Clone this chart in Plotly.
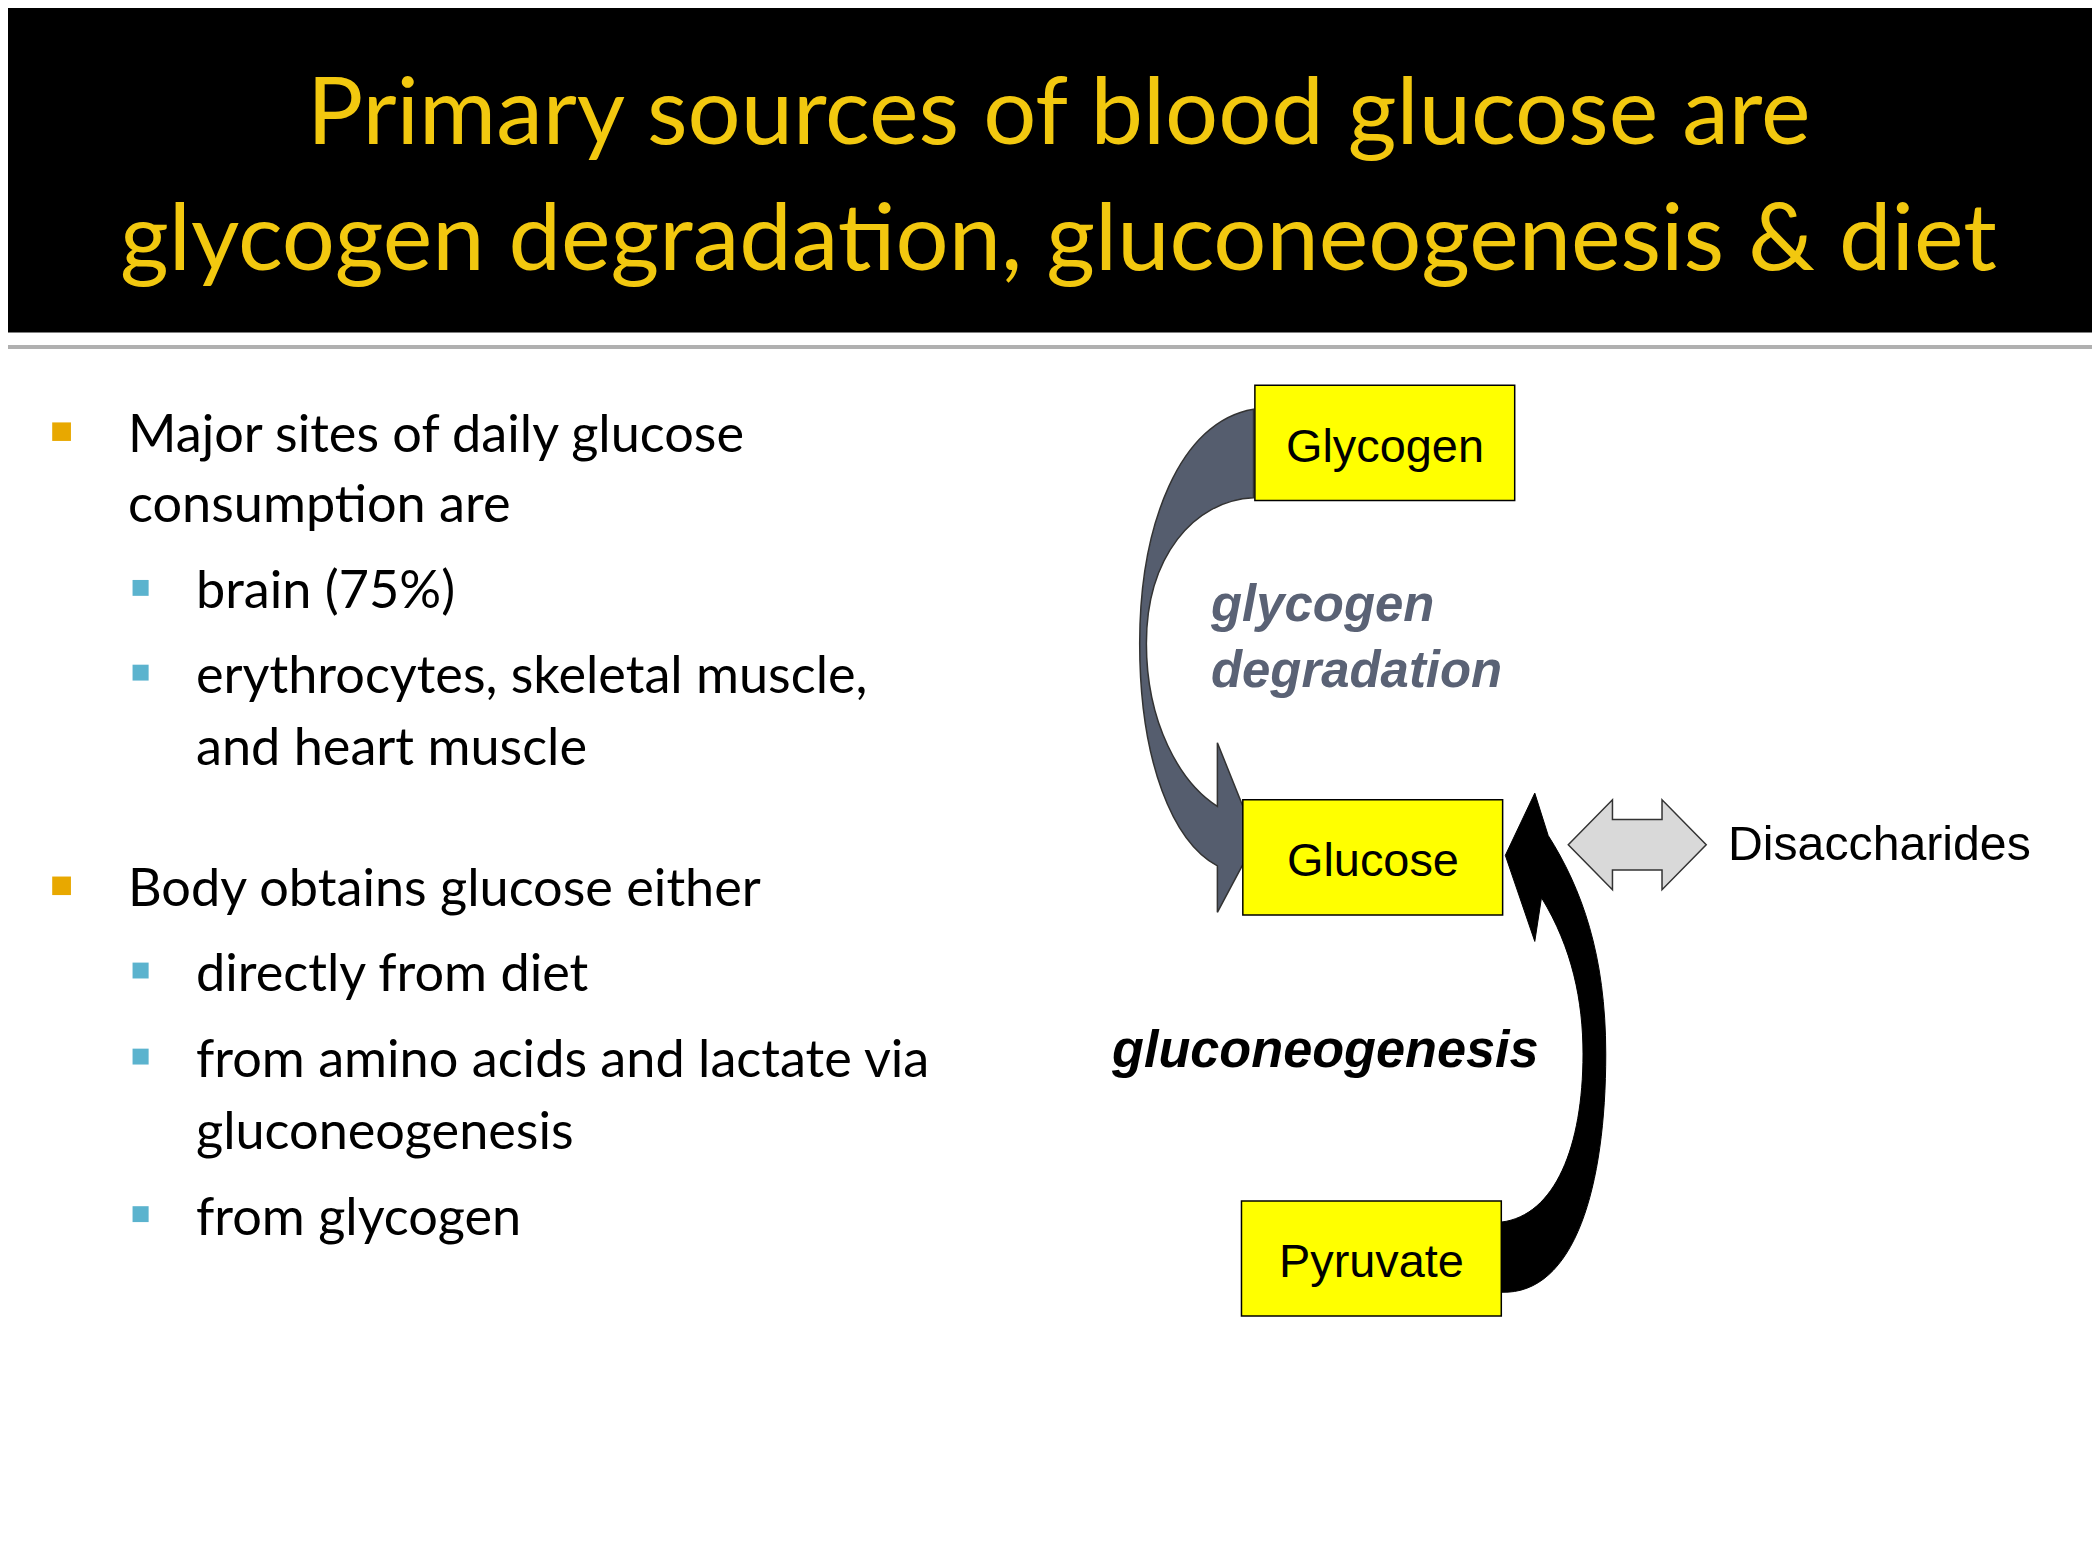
import plotly.graph_objects as go

# reference slide coordinate space (pixels), scaled to the 2100x1557 page
W, H = 1568, 1176
S = 2100 / W

TITLE_LINES = ["Primary sources of blood glucose are",
               "glycogen degradation, gluconeogenesis & diet"]
TITLE_Y = [75, 170]

BULLET_TEXT = ["Major sites of daily glucose", "consumption are", "brain (75%)",
               "erythrocytes, skeletal muscle,", "and heart muscle",
               "Body obtains glucose either", "directly from diet",
               "from amino acids and lactate via", "gluconeogenesis", "from glycogen"]
BULLET_Y = [320, 373, 438, 502, 556, 663, 727, 792, 846, 911]
BULLET_LEVEL = [1, 0, 2, 2, 0, 1, 2, 2, 0, 2]   # 1/2 = has marker, 0 = continuation
BULLET_X = {1: 88, 2: 139}

BOX_LABELS = ["Glycogen", "Glucose", "Pyruvate"]
BOX_X0 = [931, 922, 921]
BOX_Y0 = [285, 598, 901]
BOX_W, BOX_H = 194, 87

fig = go.Figure()

# header band and rule
fig.add_shape(type="rect", x0=0, x1=W, y0=0, y1=245, fillcolor="black", line_width=0)
fig.add_shape(type="line", x0=0, x1=W, y0=256, y1=256, line=dict(color="#b0b0b0", width=4))

for t, y in zip(TITLE_LINES, TITLE_Y):
    fig.add_annotation(x=W / 2, y=y, text=t, showarrow=False,
                       font=dict(family="Lato", size=70 * S, color="#F2C80F"))

# bullets
cont_x = 88
for t, y, lv in zip(BULLET_TEXT, BULLET_Y, BULLET_LEVEL):
    if lv:
        cont_x = BULLET_X[lv]
        mx = 40 if lv == 1 else 99
        col = "#E8A800" if lv == 1 else "#5BB3CE"
        sz = 7 if lv == 1 else 6
        fig.add_shape(type="rect", x0=mx - sz, x1=mx + sz, y0=y - sz, y1=y + sz,
                      fillcolor=col, line_width=0)
    fig.add_annotation(x=cont_x, y=y, text=t, showarrow=False, xanchor="left",
                       font=dict(family="Lato", size=39 * S, color="black"))

# glycogen degradation arrow (gray)
fig.add_shape(type="path",
              path=("M 930 303 C 875 312, 845 390, 845 480 C 845 570, 870 630, 903 648 "
                    "L 903 683 L 932 628 L 903 555 L 903 603 "
                    "C 875 585, 850 540, 850 480 C 850 415, 885 372, 930 370 Z"),
              fillcolor="#555d6e", line=dict(color="#333333", width=1.5))

# gluconeogenesis arrow (black)
fig.add_shape(type="path",
              path=("M 1115 970 C 1170 972, 1193 890, 1193 790 C 1193 715, 1175 665, 1150 625 "
                    "L 1140 593 L 1118 640 L 1140 705 L 1145 672 "
                    "C 1168 710, 1176 750, 1176 790 C 1176 860, 1155 912, 1115 917 Z"),
              fillcolor="black", line=dict(color="black", width=1))

# double arrow to disaccharides
fig.add_shape(type="path",
              path=("M 1165 632 L 1198 598 L 1198 613 L 1235 613 L 1235 598 L 1268 632 "
                    "L 1235 666 L 1235 651 L 1198 651 L 1198 666 Z"),
              fillcolor="#d9d9d9", line=dict(color="#333333", width=1.5))

# boxes
for lab, x0, y0 in zip(BOX_LABELS, BOX_X0, BOX_Y0):
    fig.add_shape(type="rect", x0=x0, x1=x0 + BOX_W, y0=y0, y1=y0 + BOX_H,
                  fillcolor="#FFFF00", line=dict(color="black", width=1.5))
    fig.add_annotation(x=x0 + BOX_W / 2, y=y0 + BOX_H / 2 + 2, text=lab, showarrow=False,
                       font=dict(family="Liberation Sans", size=35 * S, color="black"))

fig.add_annotation(x=896, y=475, text="<b><i>glycogen<br>degradation</i></b>", showarrow=False,
                   xanchor="left", align="left",
                   font=dict(family="Liberation Sans", size=38 * S, color="#5a6275"))
fig.add_annotation(x=983, y=786, text="<b><i>gluconeogenesis</i></b>", showarrow=False,
                   font=dict(family="Liberation Sans", size=39 * S, color="black"))
fig.add_annotation(x=1283, y=631, text="Disaccharides", showarrow=False, xanchor="left",
                   font=dict(family="Liberation Sans", size=36 * S, color="black"))

fig.update_xaxes(range=[0, W], visible=False, fixedrange=True)
fig.update_yaxes(range=[H, 0], visible=False, fixedrange=True)
fig.update_layout(width=2100, height=1557, margin=dict(l=0, r=0, t=0, b=0),
                  paper_bgcolor="white", plot_bgcolor="white", showlegend=False)

fig.write_html("out.html")
